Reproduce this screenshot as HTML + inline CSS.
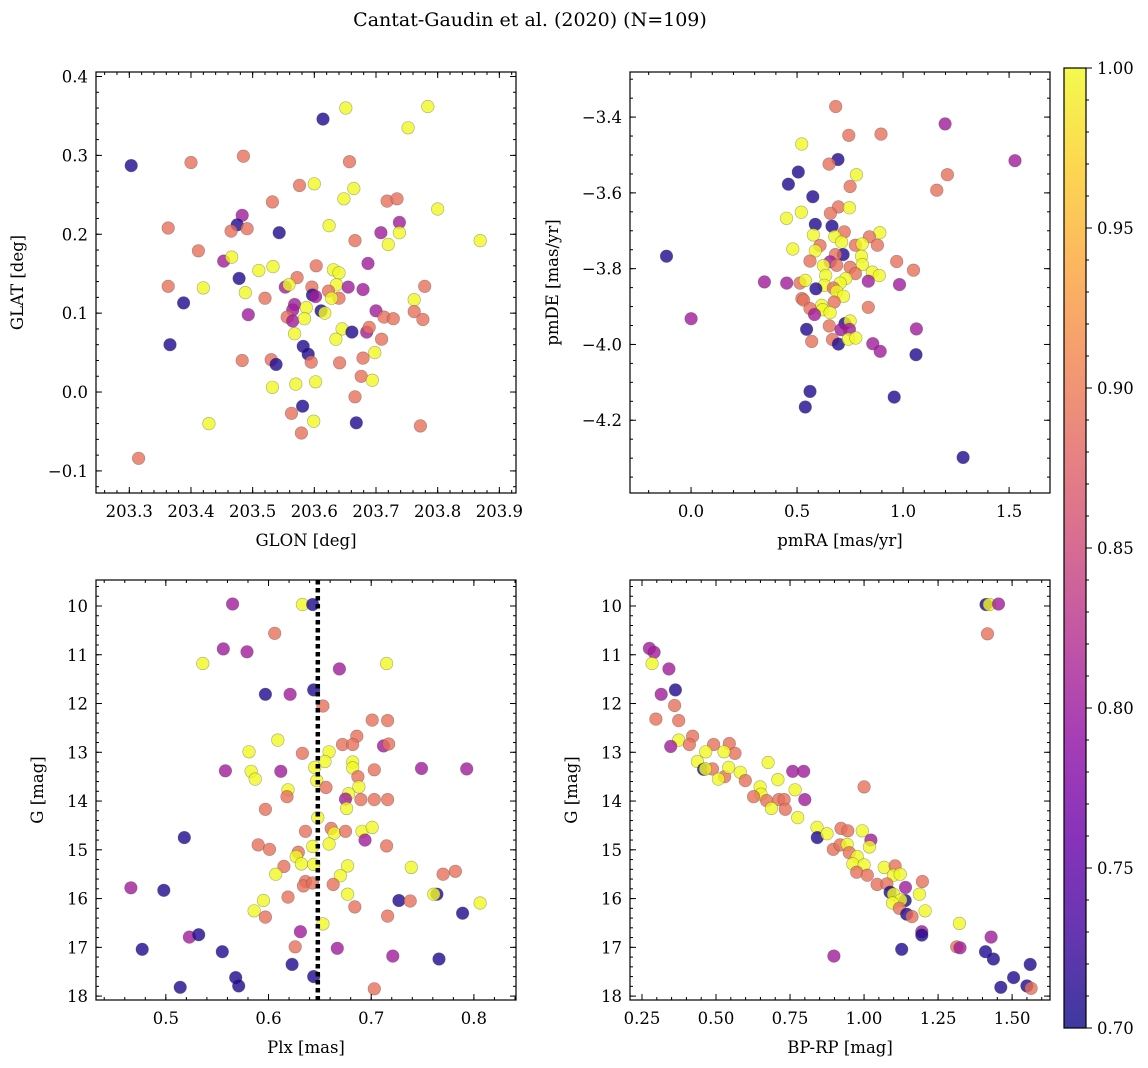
<!DOCTYPE html>
<html><head><meta charset="utf-8"><title>Cantat-Gaudin et al. (2020)</title>
<style>html,body{margin:0;padding:0;background:#fff}svg{display:block;font-family:"DejaVu Serif","Liberation Serif",serif}</style></head>
<body>
<svg id="fig" width="1148" height="1068" viewBox="0 0 1148 1068" xmlns="http://www.w3.org/2000/svg">
<defs>
<linearGradient id="plasma" x1="0" y1="1" x2="0" y2="0">
<stop offset="0" stop-color="#0d0887"/><stop offset="0.1" stop-color="#41049d"/><stop offset="0.2" stop-color="#6a00a8"/><stop offset="0.3" stop-color="#8f0da4"/><stop offset="0.4" stop-color="#b12a90"/><stop offset="0.5" stop-color="#cc4778"/><stop offset="0.6" stop-color="#e16462"/><stop offset="0.7" stop-color="#f2844b"/><stop offset="0.8" stop-color="#fca636"/><stop offset="0.9" stop-color="#fcce25"/><stop offset="1" stop-color="#f0f921"/>
</linearGradient>
</defs>
<text x="530" y="26" font-size="19" text-anchor="middle">Cantat-Gaudin et al. (2020) (N=109)</text>
</svg>
<script>
// ---- data ----
const glon=[203.303,203.315,203.4,203.485,203.614,203.651,203.784,203.752,203.657,203.576,203.6,203.664,203.648,203.718,203.734,203.8,203.532,203.483,203.475,203.363,203.465,203.491,203.543,203.624,203.738,203.708,203.738,203.666,203.869,203.72,203.412,203.453,203.466,203.687,203.603,203.533,203.51,203.631,203.64,203.572,203.478,203.363,203.42,203.553,203.559,203.596,203.636,203.655,203.679,203.779,203.488,203.52,203.597,203.602,203.623,203.64,203.628,203.762,203.388,203.568,203.565,203.587,203.493,203.556,203.611,203.617,203.7,203.713,203.728,203.762,203.776,203.565,203.584,203.645,203.661,203.685,203.689,203.568,203.635,203.709,203.366,203.582,203.59,203.595,203.698,203.679,203.483,203.53,203.538,203.641,203.676,203.694,203.532,203.57,203.602,203.666,203.581,203.563,203.429,203.599,203.668,203.772,203.579];
const glat=[0.287,-0.084,0.291,0.299,0.346,0.360,0.362,0.335,0.292,0.262,0.264,0.258,0.245,0.242,0.245,0.232,0.241,0.224,0.212,0.208,0.204,0.207,0.202,0.211,0.215,0.202,0.202,0.192,0.192,0.187,0.179,0.166,0.171,0.163,0.160,0.159,0.154,0.155,0.151,0.145,0.144,0.134,0.132,0.133,0.136,0.133,0.136,0.133,0.130,0.134,0.126,0.119,0.123,0.121,0.128,0.119,0.119,0.117,0.113,0.111,0.104,0.107,0.098,0.095,0.103,0.100,0.103,0.095,0.093,0.102,0.092,0.090,0.093,0.080,0.076,0.076,0.082,0.074,0.067,0.067,0.060,0.058,0.048,0.038,0.050,0.043,0.040,0.041,0.035,0.037,0.020,0.015,0.006,0.010,0.013,-0.006,-0.018,-0.027,-0.040,-0.037,-0.039,-0.043,-0.052];
const prob1=[0.71,0.89,0.89,0.89,0.71,1,1,1,0.89,0.89,1,1,1,0.89,0.89,1,0.89,0.805,0.71,0.89,0.89,0.89,0.71,1,0.805,0.805,1,0.89,1,1,0.89,0.805,1,0.805,0.89,1,1,1,1,0.89,0.71,0.89,1,0.805,1,0.89,1,0.805,0.805,0.89,1,0.89,0.71,0.805,0.89,0.89,1,1,0.71,0.805,0.805,1,0.805,0.89,0.71,1,0.805,0.89,0.89,0.89,0.89,0.805,1,1,0.71,0.805,0.89,1,1,0.89,0.71,0.71,0.71,0.89,1,0.89,0.89,0.89,0.71,0.89,0.89,1,1,1,1,0.89,0.71,0.89,1,1,0.71,0.89,0.89];

const pmra=[0.682,1.198,0.744,0.896,0.522,1.528,0.693,0.651,0.506,0.78,1.209,0.459,0.75,1.159,0.574,0.695,0.747,0.657,0.52,0.45,0.586,0.665,0.723,0.89,0.577,0.678,0.841,-0.116,0.48,0.608,0.775,0.879,0.807,0.586,0.71,0.717,0.681,0.804,0.561,0.656,0.687,0.624,0.75,0.808,0.97,1.049,0.775,0.855,0.888,0.635,0.73,0.346,0.451,0.514,0.539,0.836,0.983,0.629,0.703,0.671,0.589,0.687,0.719,0.523,0.531,0.675,0.616,0.561,0.836,0.621,0.656,0.582,0.0,0.726,0.75,0.652,0.545,0.707,0.747,1.063,0.569,0.667,0.695,0.742,0.777,0.857,0.892,1.061,0.561,0.539,0.958,1.283];
const pmde=[-3.372,-3.418,-3.448,-3.445,-3.471,-3.515,-3.512,-3.524,-3.545,-3.552,-3.552,-3.577,-3.583,-3.593,-3.61,-3.637,-3.639,-3.654,-3.651,-3.667,-3.683,-3.688,-3.703,-3.705,-3.711,-3.715,-3.716,-3.767,-3.748,-3.739,-3.738,-3.738,-3.735,-3.753,-3.73,-3.763,-3.763,-3.767,-3.78,-3.782,-3.791,-3.792,-3.796,-3.789,-3.781,-3.804,-3.813,-3.809,-3.818,-3.818,-3.826,-3.835,-3.838,-3.838,-3.831,-3.833,-3.842,-3.844,-3.838,-3.851,-3.853,-3.86,-3.873,-3.879,-3.883,-3.888,-3.897,-3.905,-3.902,-3.908,-3.916,-3.921,-3.932,-3.945,-3.938,-3.951,-3.96,-3.961,-3.96,-3.959,-3.992,-3.987,-3.999,-3.986,-3.983,-3.998,-4.018,-4.027,-4.124,-4.165,-4.139,-4.298];
const prob2=[0.89,0.805,0.89,0.89,1,0.805,0.71,0.89,0.71,1,0.89,0.71,0.89,0.89,0.71,0.89,1,0.89,1,1,0.71,0.71,0.89,1,1,1,0.89,0.71,1,0.89,0.89,0.89,1,1,1,0.71,0.89,1,0.89,0.805,0.89,1,0.89,1,0.89,0.89,0.89,1,1,1,1,0.805,0.805,0.89,1,0.805,0.805,1,1,0.89,0.71,1,1,0.89,0.89,0.89,1,0.89,0.89,1,1,0.805,0.805,0.71,1,0.89,0.71,0.805,0.805,0.805,0.89,0.89,0.71,1,1,0.805,0.805,0.71,0.71,0.71,0.71,0.71];

const plx=[0.565,0.633,0.643,0.606,0.556,0.579,0.536,0.715,0.669,0.597,0.621,0.644,0.653,0.701,0.716,0.686,0.609,0.672,0.682,0.712,0.717,0.581,0.633,0.659,0.655,0.682,0.645,0.682,0.558,0.583,0.612,0.703,0.749,0.793,0.687,0.587,0.647,0.656,0.688,0.619,0.618,0.678,0.675,0.69,0.703,0.716,0.597,0.676,0.648,0.636,0.661,0.664,0.675,0.691,0.701,0.694,0.518,0.59,0.601,0.643,0.659,0.715,0.629,0.627,0.632,0.644,0.677,0.615,0.607,0.67,0.739,0.77,0.782,0.636,0.634,0.643,0.663,0.466,0.498,0.677,0.764,0.761,0.619,0.595,0.727,0.738,0.806,0.684,0.586,0.597,0.716,0.789,0.653,0.631,0.523,0.532,0.477,0.555,0.626,0.667,0.721,0.766,0.623,0.568,0.644,0.571,0.514,0.703];
const gmag3=[9.96,9.97,9.97,10.56,10.88,10.94,11.18,11.18,11.29,11.81,11.81,11.72,12.05,12.34,12.35,12.67,12.75,12.84,12.84,12.87,12.83,12.99,13.02,12.99,13.19,13.2,13.31,13.32,13.38,13.39,13.39,13.36,13.33,13.34,13.5,13.55,13.58,13.72,13.71,13.77,13.91,13.85,13.96,13.97,13.97,13.97,14.17,14.15,14.34,14.62,14.56,14.66,14.62,14.62,14.54,14.8,14.75,14.9,14.99,14.93,14.88,14.92,15.05,15.14,15.29,15.3,15.33,15.34,15.5,15.53,15.36,15.5,15.44,15.65,15.74,15.68,15.71,15.78,15.83,15.91,15.91,15.91,15.97,16.04,16.04,16.05,16.09,16.17,16.25,16.38,16.36,16.3,16.52,16.68,16.79,16.74,17.04,17.09,16.99,17.02,17.18,17.24,17.35,17.62,17.6,17.79,17.82,17.85];
const prob3=[0.805,1,0.71,0.89,0.805,0.805,1,1,0.805,0.71,0.805,0.71,0.89,0.89,0.89,0.89,1,0.89,0.89,0.805,0.89,1,0.89,1,1,1,1,1,0.805,1,0.805,0.89,0.805,0.805,0.89,1,1,0.89,1,1,0.89,1,0.805,0.89,0.89,0.89,0.89,1,1,0.89,0.89,1,0.89,1,1,0.805,0.71,0.89,0.89,1,1,0.89,0.89,1,1,1,1,0.89,1,1,1,0.89,0.89,0.89,0.89,0.89,0.89,0.805,0.71,1,0.71,1,0.89,1,0.71,0.89,1,0.89,1,0.89,0.89,0.71,1,0.805,0.805,0.71,0.71,0.71,0.89,0.805,0.805,0.71,0.71,0.71,0.71,0.71,0.71,0.89];

const bprp=[0.275,0.291,0.284,0.341,0.315,0.363,0.36,0.297,0.374,0.374,0.347,0.421,0.41,0.492,0.545,0.564,0.465,0.527,0.437,0.458,0.488,0.464,0.529,0.543,0.508,0.582,0.599,0.676,0.759,0.796,0.709,0.649,0.652,0.627,0.671,0.712,0.73,0.767,0.8,0.687,0.734,0.776,1.0,0.841,0.842,0.875,0.922,0.945,0.994,1.023,1.018,0.896,0.919,0.943,0.95,0.977,0.962,1.0,0.975,1.011,1.068,1.105,1.099,1.122,1.044,1.077,1.088,1.099,1.14,1.197,1.187,1.139,1.124,1.096,1.119,1.144,1.162,1.206,1.322,1.195,1.195,1.313,1.324,1.429,1.41,1.437,1.127,0.898,1.561,1.505,1.462,1.55,1.564,1.412,1.423,1.454,1.417];
const gmag4=[10.87,10.95,11.18,11.29,11.81,11.72,12.04,12.32,12.35,12.75,12.88,12.67,12.84,12.84,12.82,13.02,12.99,12.99,13.19,13.35,13.34,13.34,13.5,13.31,13.55,13.41,13.58,13.21,13.39,13.39,13.56,13.71,13.86,13.91,13.99,13.97,13.97,13.77,13.97,14.15,14.17,14.34,13.71,14.54,14.75,14.67,14.56,14.61,14.61,14.8,14.94,14.99,14.9,14.89,15.06,15.14,15.29,15.31,15.46,15.52,15.36,15.33,15.52,15.5,15.71,15.7,15.87,15.91,15.77,15.65,15.91,16.04,16.03,16.09,16.2,16.32,16.37,16.25,16.51,16.68,16.75,16.99,17.01,16.79,17.09,17.24,17.04,17.18,17.35,17.62,17.82,17.79,17.84,9.97,9.97,9.96,10.57];
const prob4=[0.805,0.805,1,0.805,0.805,0.71,0.89,0.89,0.89,1,0.805,0.89,0.89,0.89,0.89,0.89,1,1,1,0.71,0.89,1,0.89,1,1,1,0.89,1,0.805,0.805,1,1,1,0.89,0.89,0.89,0.89,1,0.805,1,0.89,1,0.89,1,0.71,1,0.89,0.89,1,0.805,1,0.89,0.89,1,0.89,1,1,1,0.89,0.89,1,0.89,1,1,0.89,0.89,0.71,1,0.805,0.89,1,0.71,1,1,0.89,0.71,0.89,1,1,0.805,0.71,0.89,0.805,0.805,0.71,0.71,0.71,0.805,0.71,0.71,0.71,0.71,0.89,0.71,1,0.805,0.89];

const plxRef=[0.648];
const ticks1x=[203.3,203.4,203.5,203.6,203.7,203.8,203.9];
const ticks1y=[-0.1,0.0,0.1,0.2,0.3,0.4];
const ticks2x=[0.0,0.5,1.0,1.5];
const ticks2y=[-3.4,-3.6,-3.8,-4.0,-4.2];
const ticks3x=[0.5,0.6,0.7,0.8];
const ticksG=[10,11,12,13,14,15,16,17,18];
const ticks4x=[0.25,0.50,0.75,1.00,1.25,1.50];
const cbarTicks=[0.70,0.75,0.80,0.85,0.90,0.95,1.00];

// ---- drawing ----
const NS='http://www.w3.org/2000/svg';
const svg=document.getElementById('fig');
const stops=[[0,'#0d0887'],[0.1,'#41049d'],[0.2,'#6a00a8'],[0.3,'#8f0da4'],[0.4,'#b12a90'],[0.5,'#cc4778'],[0.6,'#e16462'],[0.7,'#f2844b'],[0.8,'#fca636'],[0.9,'#fcce25'],[1,'#f0f921']];
function hex(h){return [1,3,5].map(i=>parseInt(h.substr(i,2),16));}
function plasma(v){let t=Math.max(0,Math.min(1,(v-0.7)/0.3));for(let i=0;i<stops.length-1;i++){if(t<=stops[i+1][0]){const f=(t-stops[i][0])/(stops[i+1][0]-stops[i][0]);const a=hex(stops[i][1]),b=hex(stops[i+1][1]);return 'rgb('+a.map((x,k)=>Math.round(x+(b[k]-x)*f)).join(',')+')';}}return stops[10][1];}
function el(tag,attrs,parent){const e=document.createElementNS(NS,tag);for(const k in attrs)e.setAttribute(k,attrs[k]);(parent||svg).appendChild(e);return e;}
function fmt(v,d){const s=v.toFixed(d);return s.replace('-','\u2212');}
const TF=16.5;

function panel(o){
  const g=el('g',{});
  
  
  const sx=v=>o.x0+(v-o.xd[0])/(o.xd[1]-o.xd[0])*(o.x1-o.x0);
  const sy=v=>o.y1-(v-o.yd[0])/(o.yd[1]-o.yd[0])*(o.y1-o.y0);
  const clip='clip-'+o.name;
  const cp=el('clipPath',{id:clip},g);el('rect',{x:o.x0,y:o.y0,width:o.x1-o.x0,height:o.y1-o.y0},cp);
  const pts=el('g',{'clip-path':'url(#'+clip+')'},g);
  for(let i=0;i<o.xs.length;i++){
    const c=el('circle',{cx:sx(o.xs[i]).toFixed(1),cy:sy(o.ys[i]).toFixed(1),r:6.3,fill:plasma(o.cs[i]),'fill-opacity':0.8,stroke:'#444','stroke-opacity':0.45,'stroke-width':0.6},pts);
    
    
  }
  if(o.vline){for(const v of o.vline){const l=el('line',{x1:sx(v),x2:sx(v),y1:o.y0,y2:o.y1,stroke:'#000','stroke-width':4.5,'stroke-dasharray':'4.5,3.5'},pts);
    
    }}
  const fr=el('rect',{x:o.x0,y:o.y0,width:o.x1-o.x0,height:o.y1-o.y0,fill:'none',stroke:'#000','stroke-width':1.2},g);
  
  
  const tg=el('g',{stroke:'#000','stroke-width':1},g);
  const eps=1e-9;
  for(let v=Math.ceil(o.xd[0]/o.xm-eps)*o.xm;v<=o.xd[1]+eps;v+=o.xm){const X=sx(v);el('line',{x1:X,x2:X,y1:o.y1,y2:o.y1-3},tg);el('line',{x1:X,x2:X,y1:o.y0,y2:o.y0+3},tg);}
  const ylo=Math.min(o.yd[0],o.yd[1]),yhi=Math.max(o.yd[0],o.yd[1]);
  for(let v=Math.ceil(ylo/o.ym-eps)*o.ym;v<=yhi+eps;v+=o.ym){const Y=sy(v);el('line',{x1:o.x0,x2:o.x0+3,y1:Y,y2:Y},tg);el('line',{x1:o.x1,x2:o.x1-3,y1:Y,y2:Y},tg);}
  for(const v of o.xt){const X=sx(v);el('line',{x1:X,x2:X,y1:o.y1,y2:o.y1-6},tg);el('line',{x1:X,x2:X,y1:o.y0,y2:o.y0+6},tg);
    const t=el('text',{x:X,y:o.y1+24,'font-size':TF,'text-anchor':'middle'},g);t.textContent=fmt(v,o.xdp);
    
    }
  for(const v of o.yt){const Y=sy(v);el('line',{x1:o.x0,x2:o.x0+6,y1:Y,y2:Y},tg);el('line',{x1:o.x1,x2:o.x1-6,y1:Y,y2:Y},tg);
    const t=el('text',{x:o.x0-8,y:Y+6,'font-size':TF,'text-anchor':'end'},g);t.textContent=fmt(v,o.ydp);
    
    }
  const xl=el('text',{x:(o.x0+o.x1)/2,y:o.y1+53,'font-size':TF,'text-anchor':'middle'},g);xl.textContent=o.xlab;
  
  
  const yc=(o.y0+o.y1)/2;
  const yl=el('text',{x:o.ylx,y:yc,'font-size':TF,'text-anchor':'middle',transform:'rotate(-90 '+o.ylx+' '+yc+')'},g);yl.textContent=o.ylab;
  
  
}

panel({name:'panel-glon-glat',x0:96,x1:516,y0:72,y1:493,xd:[203.246,203.927],yd:[-0.128,0.4057],xs:glon,ys:glat,cs:prob1,xt:ticks1x,yt:ticks1y,xm:0.02,ym:0.02,xdp:1,ydp:1,xlab:'GLON [deg]',ylab:'GLAT [deg]',ylx:23});
panel({name:'panel-pm',x0:630,x1:1050,y0:72,y1:493,xd:[-0.288,1.693],yd:[-4.392,-3.281],xs:pmra,ys:pmde,cs:prob2,xt:ticks2x,yt:ticks2y,xm:0.1,ym:0.05,xdp:1,ydp:1,xlab:'pmRA [mas/yr]',ylab:'pmDE [mas/yr]',ylx:558});
panel({name:'panel-plx-g',x0:96,x1:516,y0:580,y1:1000,xd:[0.432,0.841],yd:[18.08,9.467],xs:plx,ys:gmag3,cs:prob3,xt:ticks3x,yt:ticksG,xm:0.02,ym:0.2,xdp:1,ydp:0,xlab:'Plx [mas]',ylab:'G [mag]',ylx:43,vline:plxRef});
panel({name:'panel-cmd',x0:630,x1:1050,y0:580,y1:1000,xd:[0.2095,1.628],yd:[18.08,9.467],xs:bprp,ys:gmag4,cs:prob4,xt:ticks4x,yt:ticksG,xm:0.05,ym:0.2,xdp:2,ydp:0,xlab:'BP-RP [mag]',ylab:'G [mag]',ylx:577});

// colorbar
const cb=el('g',{});


const cbx0=1064,cbx1=1086,cby0=68,cby1=1028;
const cy=v=>cby1-(v-0.7)/0.3*(cby1-cby0);
el('rect',{x:cbx0,y:cby0,width:cbx1-cbx0,height:cby1-cby0,fill:'url(#plasma)','fill-opacity':0.8},cb);
el('rect',{x:cbx0,y:cby0,width:cbx1-cbx0,height:cby1-cby0,fill:'none',stroke:'#000','stroke-width':1.2},cb);
for(let k=0;k<=30;k++){const v=0.7+k*0.01;const Y=cy(v);const maj=k%5===0;el('line',{x1:cbx1,x2:cbx1+(maj?6:3),y1:Y,y2:Y,stroke:'#000','stroke-width':1},cb);}
for(const v of cbarTicks){const t=el('text',{x:cbx1+11,y:cy(v)+6,'font-size':TF},cb);t.textContent=v.toFixed(2);
  
  }
</script>
</body></html>
